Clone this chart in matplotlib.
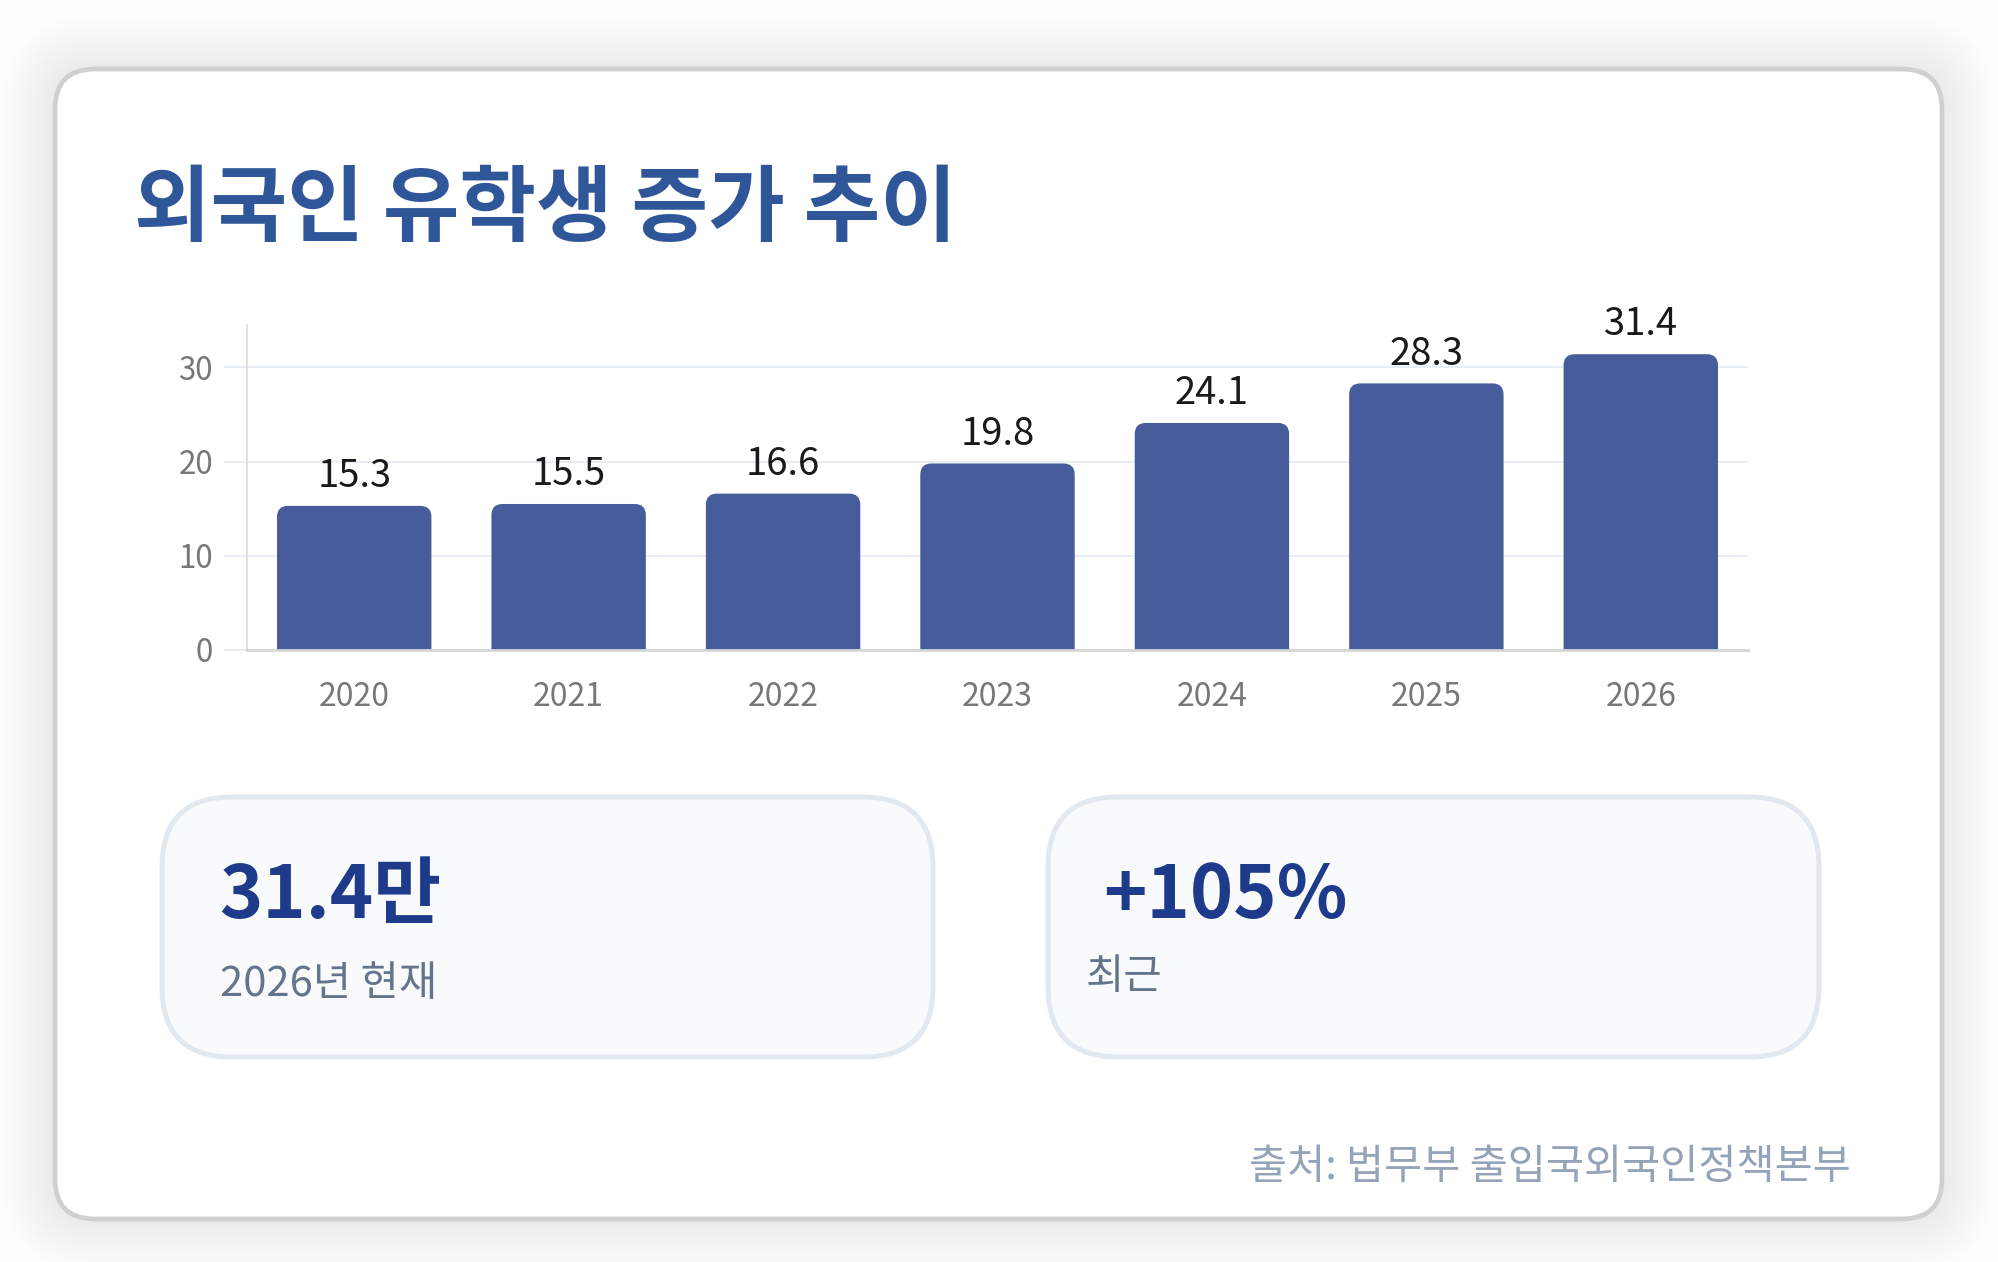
import matplotlib
matplotlib.use('Agg')
import matplotlib.pyplot as plt
from matplotlib.patches import FancyBboxPatch

plt.rcParams['font.family'] = ['Noto Sans CJK KR', 'DejaVu Sans']

# ---------------- data ----------------
years = ['2020', '2021', '2022', '2023', '2024', '2025', '2026']
values = [15.3, 15.5, 16.6, 19.8, 24.1, 28.3, 31.4]
y_ticks = [0, 10, 20, 30]
title = '외국인 유학생 증가 추이'
card1_value = '31.4만'
card1_label = '2026년 현재'
card2_value = '+105%'
card2_label = '최근'
source = '출처: 법무부 출입국외국인정책본부'

# ---------------- figure ----------------
W, H = 1998, 1262
fig = plt.figure(figsize=(W / 100, H / 100), dpi=100, facecolor='#fdfdfd')
bg = fig.add_axes([0, 0, 1, 1], zorder=0)
bg.set_xlim(0, W)
bg.set_ylim(H, 0)
bg.axis('off')

# soft shadow around the main card
for p in range(2, 56, 3):
    bg.add_patch(FancyBboxPatch((55, 69), 1887, 1150,
                                boxstyle=f'round,pad={p},rounding_size={40 + p}',
                                fc='black', ec='none', alpha=0.0028, zorder=1))
# main card
bg.add_patch(FancyBboxPatch((55, 69), 1887, 1150,
                            boxstyle='round,pad=0,rounding_size=40',
                            fc='white', ec='#d0d0d0', lw=3.4, zorder=2))

# title
bg.text(134, 211, title, fontsize=60, fontweight='bold', color='#30569a',
        ha='left', va='center', zorder=3)

# stat cards
for x0 in (162, 1048):
    bg.add_patch(FancyBboxPatch((x0, 797), 771, 260,
                                boxstyle='round,pad=0,rounding_size=70',
                                fc='#f8fafc', ec='#e2e8f0', lw=3.6, zorder=3))

bg.text(219, 918, card1_value, fontsize=53, fontweight='bold', color='#1e3a8a',
        ha='left', va='baseline', zorder=4)
bg.text(220, 996, card1_label, fontsize=30, color='#64748b',
        ha='left', va='baseline', zorder=4)
bg.text(1103, 918, card2_value, fontsize=53, fontweight='bold', color='#1e3a8a',
        ha='left', va='baseline', zorder=4)
bg.text(1086, 989, card2_label, fontsize=30, color='#64748b',
        ha='left', va='baseline', zorder=4)

# source
bg.text(1851, 1179, source, fontsize=29.8, color='#94a3b8',
        ha='right', va='baseline', zorder=4)

# ---------------- chart ----------------
ax = fig.add_axes([247 / W, (H - 650) / H, 1501 / W, 325 / H], zorder=5)
ax.set_facecolor('none')
x = list(range(len(years)))
ax.set_xlim(-0.5, len(years) - 0.5)
ax.set_ylim(0, 34.5)

bar_color = '#475c9a'
bars = ax.bar(x, values, width=0.72, color=bar_color, zorder=3)

# rounded tops
t0 = ax.transData.transform((0, 0))
t1 = ax.transData.transform((1, 1))
px_x = abs(t1[0] - t0[0])
px_y = abs(t1[1] - t0[1])
rad_px = 11
rx = rad_px / px_x
ry = rad_px / px_y
for rect in bars:
    bx, by = rect.get_x(), rect.get_y()
    bw, bh = rect.get_width(), rect.get_height()
    rect.set_visible(False)
    patch = FancyBboxPatch((bx, by - ry), bw, bh + ry,
                           boxstyle=f'round,pad=0,rounding_size={rx}',
                           mutation_aspect=ry / rx,
                           fc=bar_color, ec='none', zorder=3)
    ax.add_patch(patch)

for xi, v in zip(x, values):
    ax.annotate(f'{v}', (xi, v), xytext=(0, 13.5), textcoords='offset points',
                ha='center', va='baseline', fontsize=27.5, color='#1a1a1a', zorder=4)

ax.set_yticks(y_ticks)
ax.set_xticks(x)
ax.set_xticklabels(years)
ax.grid(axis='y', color='#e6eaf2', lw=1.3, zorder=0)
ax.set_axisbelow(True)
ax.tick_params(axis='y', length=16.5, width=1.3, color='#e6eaf2', pad=8,
               labelsize=22.5, labelcolor='#777777')
ax.tick_params(axis='x', length=0, pad=22, labelsize=23, labelcolor='#777777')
for s in ('top', 'right'):
    ax.spines[s].set_visible(False)
ax.spines['left'].set_color('#dddddd')
ax.spines['left'].set_linewidth(1.3)
ax.spines['bottom'].set_color('#d6d6d6')
ax.spines['bottom'].set_linewidth(2)
ax.spines['bottom'].set_zorder(4)

fig.savefig('out.png', dpi=100, facecolor=fig.get_facecolor())
